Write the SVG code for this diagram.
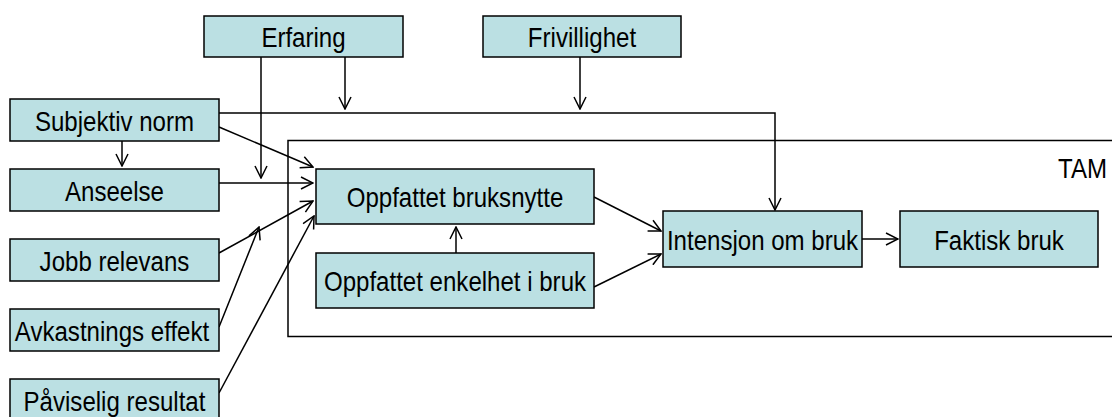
<svg xmlns="http://www.w3.org/2000/svg" width="1112" height="417" viewBox="0 0 1112 417">
<style>
.box{fill:#BBE0E3;stroke:#000;stroke-width:1.5}
.lbl{font-family:"Liberation Sans",Arial,sans-serif;font-size:27.5px;fill:#000;text-anchor:middle;transform-box:fill-box;transform-origin:center;transform:scaleX(0.875)}
.c{fill:none;stroke:#000;stroke-width:1.5}
</style>
<defs>
<marker id="a" markerUnits="userSpaceOnUse" viewBox="0 0 14 14" markerWidth="14" markerHeight="14" refX="13" refY="7" orient="auto">
<path d="M1,1 L13,7 L1,13" fill="none" stroke="#000" stroke-width="1.5"/>
</marker>
</defs>
<rect x="288" y="140.5" width="830" height="196" fill="none" stroke="#000" stroke-width="1.5"/>
<text x="1082.5" y="178" class="lbl">TAM</text>
<g id="connectors">
<path class="c" d="M219,113 H775 V210" marker-end="url(#a)"/>
<path class="c" d="M345,57 V109" marker-end="url(#a)"/>
<path class="c" d="M580,57 V109" marker-end="url(#a)"/>
<path class="c" d="M261,57 V178" marker-end="url(#a)"/>
<path class="c" d="M122,141 V166" marker-end="url(#a)"/>
<path class="c" d="M219,127 L313,167" marker-end="url(#a)"/>
<path class="c" d="M219,183 H313" marker-end="url(#a)"/>
<path class="c" d="M219,253 L313,201" marker-end="url(#a)"/>
<path class="c" d="M219,327 L259,227" marker-end="url(#a)"/>
<path class="c" d="M219,393 L314,216" marker-end="url(#a)"/>
<path class="c" d="M456,253 V227" marker-end="url(#a)"/>
<path class="c" d="M594,197 L661,231" marker-end="url(#a)"/>
<path class="c" d="M594,287 L661,254" marker-end="url(#a)"/>
<path class="c" d="M858,239 H898" marker-end="url(#a)"/>
</g>
<g id="erfaring"><rect class="box" x="204" y="16" width="199" height="41"/><text class="lbl" x="303.5" y="47.5">Erfaring</text></g>
<g id="frivillighet"><rect class="box" x="483" y="16" width="198" height="41"/><text class="lbl" x="582" y="47.5">Frivillighet</text></g>
<g id="subjektiv"><rect class="box" x="10" y="99" width="209" height="42"/><text class="lbl" x="114.5" y="131">Subjektiv norm</text></g>
<g id="anseelse"><rect class="box" x="10" y="169" width="209" height="42"/><text class="lbl" x="114.5" y="201">Anseelse</text></g>
<g id="jobb"><rect class="box" x="10" y="239" width="209" height="42"/><text class="lbl" x="114.5" y="271">Jobb relevans</text></g>
<g id="avkastning"><rect class="box" x="10" y="309" width="209" height="42"/><text class="lbl" x="112" y="341">Avkastnings effekt</text></g>
<g id="paviselig"><rect class="box" x="10" y="379" width="209" height="42"/><text class="lbl" x="114.5" y="411">Påviselig resultat</text></g>
<g id="bruksnytte"><rect class="box" x="316" y="169" width="278" height="55"/><text class="lbl" x="455" y="207.5">Oppfattet bruksnytte</text></g>
<g id="enkelhet"><rect class="box" x="316" y="253" width="278" height="55"/><text class="lbl" x="455" y="291.5">Oppfattet enkelhet i bruk</text></g>
<g id="intensjon"><rect class="box" x="663" y="211" width="199" height="56"/><text class="lbl" x="762.5" y="250">Intensjon om bruk</text></g>
<g id="faktisk"><rect class="box" x="900" y="211" width="198" height="56"/><text class="lbl" x="999" y="250">Faktisk bruk</text></g>
</svg>
